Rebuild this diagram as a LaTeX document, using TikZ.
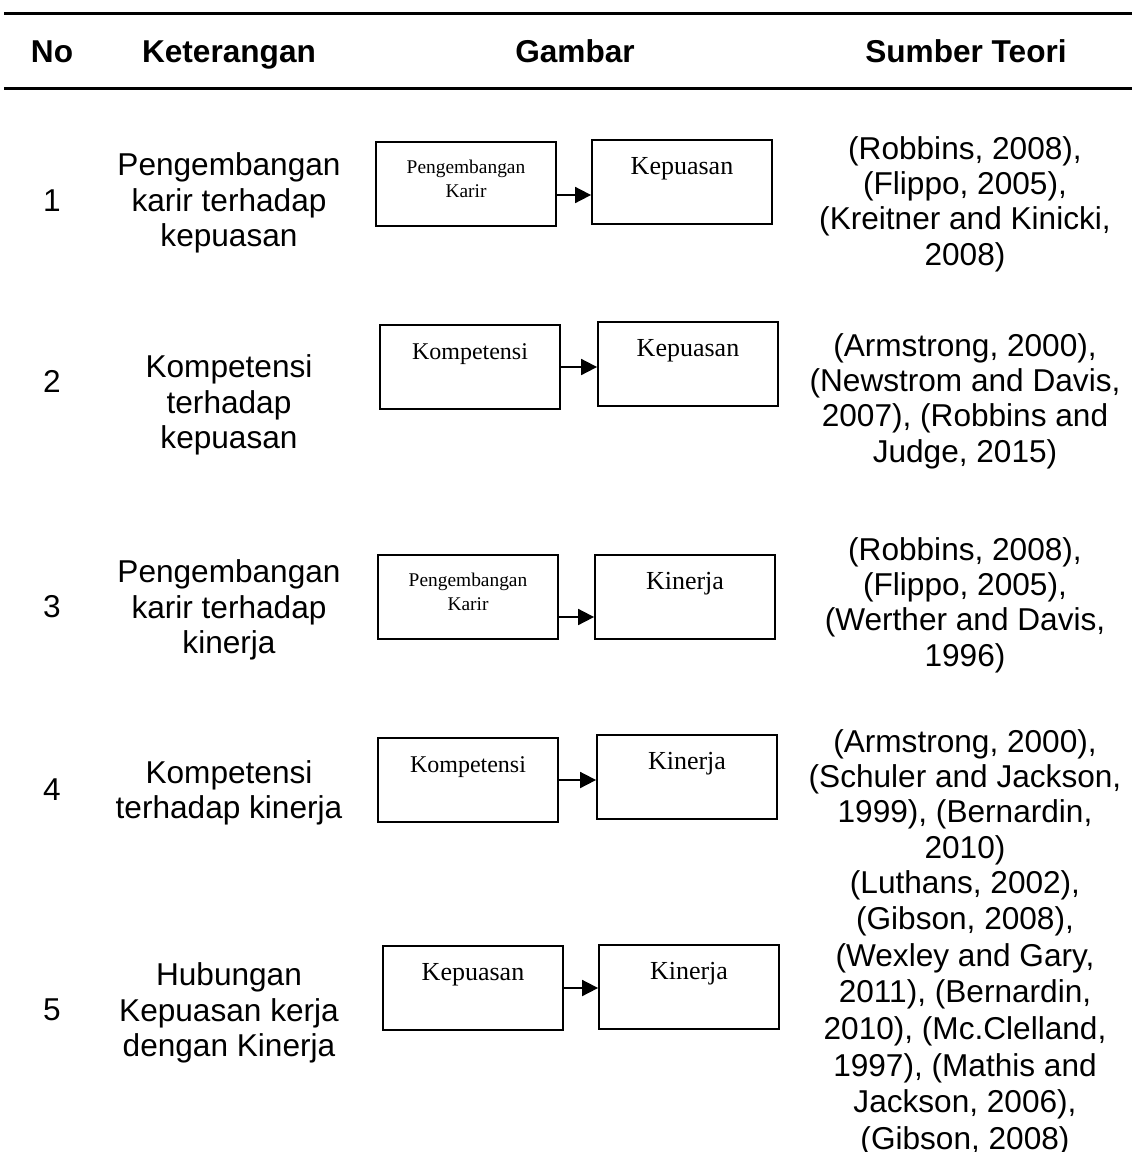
\documentclass[tikz,border=0pt]{standalone}
\usepackage{fontspec}
\setmainfont{Liberation Sans}
\newfontfamily\timesfont{Liberation Serif}
\usetikzlibrary{arrows.meta,positioning}

\tikzset{
    rule/.style={line width=1.5pt},
    head/.style={font=\fontsize{15.8}{17.7}\selectfont\bfseries,text height=11.5pt,text depth=3.5pt},
    txt/.style={align=center,font=\fontsize{15.8}{17.7}\selectfont},
    var/.style={draw,line width=0.9pt,minimum width=90pt,minimum height=42pt,inner sep=0pt,
        text height=9pt,text depth=17pt,font=\timesfont\fontsize{13}{15}\selectfont},
    varsmall/.style={var,align=center,text height=19pt,text depth=6pt,
        font=\timesfont\fontsize{9.7}{12}\selectfont},
    link/.style={-{Triangle[length=8pt,width=8pt]},line width=0.9pt}
}

\begin{document}
\begin{tikzpicture}[x=0.5pt,y=-0.5pt]
    \useasboundingbox (0,0) rectangle (1132,1152);

    % Header rules and titles
    \draw[rule] (4,13) -- (1132,13);
    \draw[rule] (4,88) -- (1132,88);
    \node[head] (hNo) at (52,54) {No};
    \node[head] (hKet) at (229,54) {Keterangan};
    \node[head] (hGam) at (575,54) {Gambar};
    \node[head] (hSum) at (966,54) {Sumber Teori};

    % Row numbers
    \node[txt] (no1) at (52,201) {1};
    \node[txt] (no2) at (52,381) {2};
    \node[txt] (no3) at (52,607) {3};
    \node[txt] (no4) at (52,790) {4};
    \node[txt] (no5) at (52,1010) {5};

    % Keterangan
    \node[txt] (ket1) at (229,203) {Pengembangan\\karir terhadap\\kepuasan};
    \node[txt] (ket2) at (229,405) {Kompetensi\\terhadap\\kepuasan};
    \node[txt] (ket3) at (229,610) {Pengembangan\\karir terhadap\\kinerja};
    \node[txt] (ket4) at (229,793) {Kompetensi\\terhadap kinerja};
    \node[txt] (ket5) at (229,1013) {Hubungan\\Kepuasan kerja\\dengan Kinerja};

    % Gambar boxes
    \node[varsmall] (karir1) at (466,184) {Pengembangan\\Karir};
    \node[var] (puas1) at (682,182) {Kepuasan};
    \node[var,font=\timesfont\fontsize{12}{14}\selectfont] (komp2) at (470,367) {Kompetensi};
    \node[var] (puas2) at (688,364) {Kepuasan};
    \node[varsmall] (karir3) at (468,597) {Pengembangan\\Karir};
    \node[var] (kin3) at (685,597) {Kinerja};
    \node[var,font=\timesfont\fontsize{12}{14}\selectfont] (komp4) at (468,780) {Kompetensi};
    \node[var] (kin4) at (687,777) {Kinerja};
    \node[var] (puas5) at (473,988) {Kepuasan};
    \node[var] (kin5) at (689,987) {Kinerja};

    % Gambar arrows
    \draw[link] ([yshift=-5.5pt]karir1.east) -- ([yshift=-5.5pt]karir1.east -| puas1.west);
    \draw[link] (komp2.east) -- (komp2.east -| puas2.west);
    \draw[link] ([yshift=-10pt]karir3.east) -- ([yshift=-10pt]karir3.east -| kin3.west);
    \draw[link] (komp4.east) -- (komp4.east -| kin4.west);
    \draw[link] (puas5.east) -- (puas5.east -| kin5.west);

    % Sumber teori
    \node[txt] (sum1) at (965,204) {(Robbins, 2008),\\(Flippo, 2005),\\(Kreitner and Kinicki,\\2008)};
    \node[txt] (sum2) at (965,401) {(Armstrong, 2000),\\(Newstrom and Davis,\\2007), (Robbins and\\Judge, 2015)};
    \node[txt] (sum3) at (965,605) {(Robbins, 2008),\\(Flippo, 2005),\\(Werther and Davis,\\1996)};
    \node[txt] (sum4) at (965,797) {(Armstrong, 2000),\\(Schuler and Jackson,\\1999), (Bernardin,\\2010)};
    \node[txt,font=\fontsize{15.8}{18.3}\selectfont] (sum5) at (965,1013) {(Luthans, 2002),\\(Gibson, 2008),\\(Wexley and Gary,\\2011), (Bernardin,\\2010), (Mc.Clelland,\\1997), (Mathis and\\Jackson, 2006),\\(Gibson, 2008)};
\end{tikzpicture}
\end{document}
